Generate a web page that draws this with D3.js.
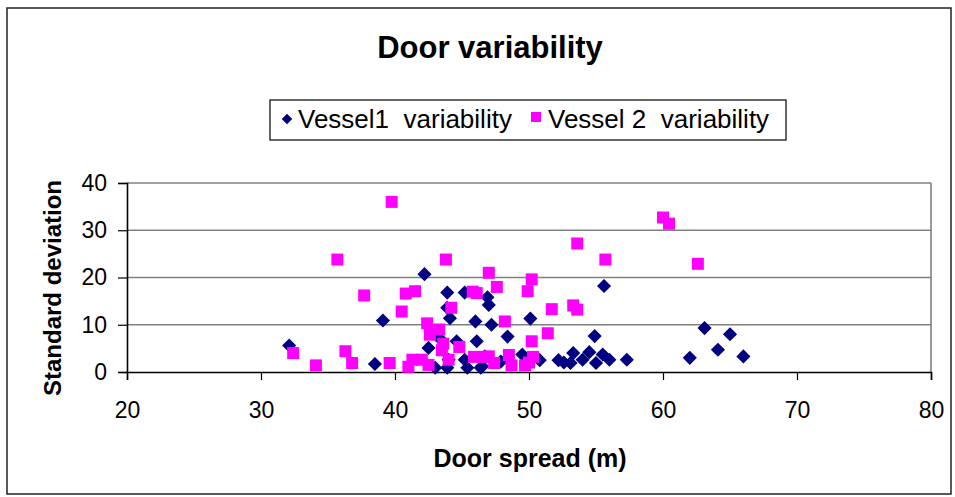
<!DOCTYPE html>
<html>
<head>
<meta charset="utf-8">
<script src="https://cdn.jsdelivr.net/npm/d3@7"></script>
<style>
  html, body { margin: 0; padding: 0; background: #fff; }
  svg { display: block; font-family: "Liberation Sans", Arial, sans-serif; }
</style>
</head>
<body>
<svg id="chart" width="955" height="497"></svg>
<script>
// Door spread (m) vs standard deviation, per vessel
const vessel1 = [
  [32.1, 5.6], [38.5, 1.7], [39.1, 10.9], [42.2, 20.7], [42.5, 5.1], [43.0, 0.9],
  [43.3, 7.2], [43.9, 16.8], [43.9, 13.6], [43.9, 0.9], [44.0, 2.6], [44.1, 11.4],
  [44.6, 6.5], [45.2, 16.8], [45.2, 2.6], [45.4, 0.9], [46.0, 10.7], [46.1, 6.5],
  [46.4, 0.9], [46.5, 1.2], [46.7, 3.3], [46.9, 15.8], [47.0, 14.2], [47.2, 10.0],
  [47.9, 2.2], [48.4, 7.5], [49.5, 3.7], [50.1, 11.3], [50.8, 2.5], [52.2, 2.5],
  [52.6, 2.0], [53.1, 1.9], [53.3, 4.0], [54.0, 2.6], [54.5, 4.2], [54.9, 7.6],
  [55.0, 1.9], [55.5, 3.7], [55.6, 18.2], [56.0, 2.6], [57.3, 2.6], [62.0, 3.0],
  [63.1, 9.3], [64.1, 4.7], [65.0, 8.0], [66.0, 3.3]
];
const vessel2 = [
  [32.4, 4.0], [34.1, 1.4], [35.7, 23.8], [36.3, 4.4], [36.8, 1.9], [37.7, 16.2],
  [39.6, 1.9], [39.75, 36.0], [40.5, 12.8], [40.8, 16.6], [41.0, 1.1], [41.3, 2.6],
  [41.5, 17.1], [42.0, 2.6], [42.4, 10.3], [42.5, 1.5], [42.6, 7.9], [43.3, 9.0],
  [43.5, 4.6], [43.6, 6.0], [43.8, 23.8], [44.0, 2.6], [44.2, 13.6], [44.8, 5.3],
  [45.8, 17.0], [45.9, 3.2], [46.1, 16.7], [46.7, 3.2], [47.0, 21.0], [47.0, 3.3],
  [47.4, 1.9], [47.6, 18.0], [48.2, 10.7], [48.5, 3.6], [48.7, 1.4], [49.7, 1.4],
  [49.9, 17.1], [50.0, 2.0], [50.2, 19.6], [50.2, 6.5], [50.3, 3.2], [51.4, 8.2],
  [51.7, 13.3], [53.3, 14.1], [53.6, 13.2], [53.6, 27.2], [55.7, 23.8], [60.0, 32.7],
  [60.45, 31.4], [62.6, 22.9]
];
const xTicks = [20, 30, 40, 50, 60, 70, 80];
const yTicks = [0, 10, 20, 30, 40];
const seriesNames = ["Vessel1  variability", "Vessel 2  variability"];
const seriesColors = ["#000080", "#FF00FF"];

const svg = d3.select("#chart");

// outer chart frame
svg.append("rect")
  .attr("x", 7).attr("y", 8).attr("width", 944).attr("height", 486)
  .attr("fill", "#fff").attr("stroke", "#222").attr("stroke-width", 1.5);

const plot = { left: 127, right: 931, top: 183, bottom: 372 };
const x = d3.scaleLinear().domain([20, 80]).range([plot.left, plot.right]);
const y = d3.scaleLinear().domain([0, 40]).range([plot.bottom, plot.top]);

// title
svg.append("text")
  .attr("x", 490).attr("y", 58)
  .attr("text-anchor", "middle")
  .attr("font-size", 31).attr("font-weight", "bold")
  .text("Door variability");

// horizontal gridlines
svg.append("g")
  .selectAll("line")
  .data(yTicks.filter(d => d > 0))
  .join("line")
  .attr("x1", plot.left).attr("x2", plot.right)
  .attr("y1", d => y(d)).attr("y2", d => y(d))
  .attr("stroke", "#808080").attr("stroke-width", 1.6);

// plot area right edge
svg.append("line")
  .attr("x1", plot.right).attr("x2", plot.right)
  .attr("y1", plot.top).attr("y2", plot.bottom)
  .attr("stroke", "#808080").attr("stroke-width", 1.6);

// axes
const xAxis = svg.append("g")
  .attr("transform", `translate(0,${plot.bottom})`)
  .call(d3.axisBottom(x).tickValues(xTicks).tickSize(8).tickPadding(22).tickFormat(d3.format("d")));
const yAxis = svg.append("g")
  .attr("transform", `translate(${plot.left},0)`)
  .call(d3.axisLeft(y).tickValues(yTicks).tickSize(9).tickPadding(11).tickFormat(d3.format("d")));

[xAxis, yAxis].forEach(g => {
  g.select(".domain").attr("stroke", "#000").attr("stroke-width", 1.6);
  g.selectAll(".tick line").attr("stroke", "#000").attr("stroke-width", 1.2);
  g.selectAll(".tick text")
    .attr("font-size", 23)
    .attr("fill", "#000")
    .attr("font-family", "Liberation Sans, Arial, sans-serif");
});
xAxis.selectAll(".tick text").attr("dy", "0.71em");

// axis titles
svg.append("text")
  .attr("x", 530).attr("y", 467)
  .attr("text-anchor", "middle")
  .attr("font-size", 25).attr("font-weight", "bold")
  .text("Door spread (m)");
svg.append("text")
  .attr("transform", "translate(61,288) rotate(-90)")
  .attr("text-anchor", "middle")
  .attr("font-size", 24).attr("font-weight", "bold")
  .text("Standard deviation");

// markers
const diamond = d3.symbol().type(d3.symbolSquare).size(100);
const square = d3.symbol().type(d3.symbolSquare).size(144);

svg.append("g")
  .selectAll("path")
  .data(vessel1)
  .join("path")
  .attr("d", diamond)
  .attr("transform", d => `translate(${x(d[0])},${y(d[1])}) rotate(45)`)
  .attr("fill", seriesColors[0]);

svg.append("g")
  .selectAll("path")
  .data(vessel2)
  .join("path")
  .attr("d", square)
  .attr("transform", d => `translate(${x(d[0])},${y(d[1])})`)
  .attr("fill", seriesColors[1]);

// legend
const legend = svg.append("g");
legend.append("rect")
  .attr("x", 270).attr("y", 100).attr("width", 516).attr("height", 40)
  .attr("fill", "#fff").attr("stroke", "#000").attr("stroke-width", 1.2);
legend.append("path")
  .attr("d", d3.symbol().type(d3.symbolSquare).size(56))
  .attr("transform", "translate(287,119) rotate(45)")
  .attr("fill", seriesColors[0]);
legend.append("text")
  .attr("x", 298).attr("y", 128)
  .attr("font-size", 26)
  .style("white-space", "pre")
  .text(seriesNames[0]);
legend.append("path")
  .attr("d", d3.symbol().type(d3.symbolSquare).size(100))
  .attr("transform", "translate(536,117)")
  .attr("fill", seriesColors[1]);
legend.append("text")
  .attr("x", 548).attr("y", 128)
  .attr("font-size", 26)
  .style("white-space", "pre")
  .text(seriesNames[1]);
</script>
</body>
</html>
